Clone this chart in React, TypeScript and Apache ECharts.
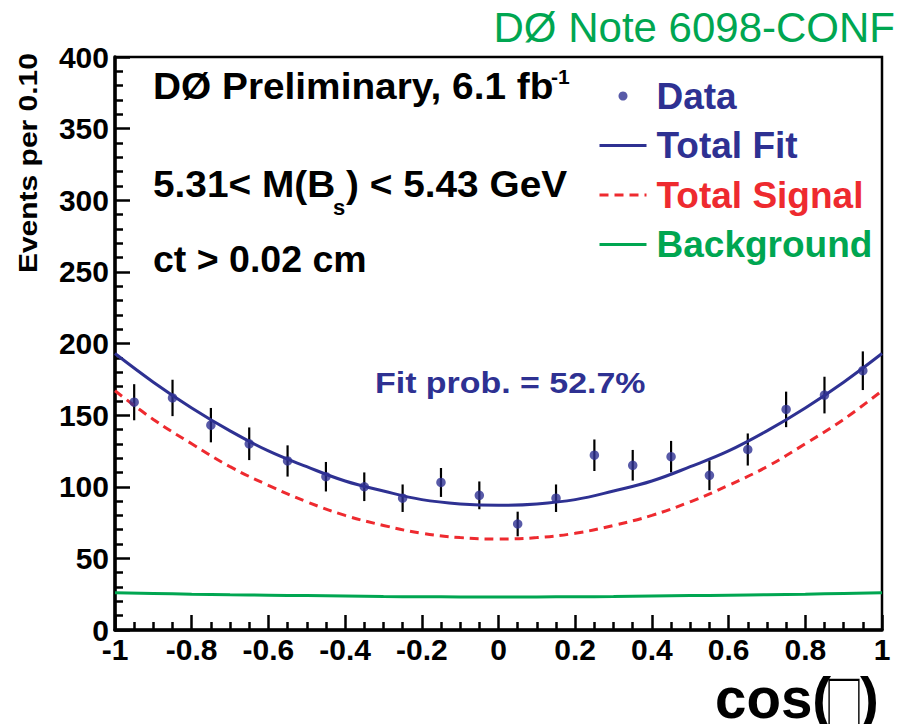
import React, { useEffect, useRef } from "react";
import * as echarts from "echarts";

// Bin centres of the cos distribution (bin width 0.10)
const binCenters = [
  -0.95, -0.85, -0.75, -0.65, -0.55, -0.45, -0.35, -0.25, -0.15, -0.05,
  0.05, 0.15, 0.25, 0.35, 0.45, 0.55, 0.65, 0.75, 0.85, 0.95,
];
// Events per bin and their statistical uncertainties
const eventCounts = [159, 162, 143, 130, 118, 107, 100, 92, 103, 94, 74, 92, 122, 115, 121, 108, 126, 154, 164, 181];
const eventErrors = [12.6, 12.7, 12, 11.4, 10.9, 10.3, 10, 9.6, 10.1, 9.7, 8.6, 9.6, 11, 10.7, 11, 10.4, 11.2, 12.4, 12.8, 13.5];

// Fit projections sampled along cos
const curveX = [-1, -0.9, -0.8, -0.7, -0.6, -0.5, -0.4, -0.3, -0.2, -0.1, 0, 0.1, 0.2, 0.3, 0.4, 0.5, 0.6, 0.7, 0.8, 0.9, 1];
const totalFit = [193, 173, 155, 139, 125, 114, 104, 97, 91, 88, 87, 88, 91, 97, 104, 114, 125, 139, 155, 173, 193];
const totalSignal = [167, 147, 130, 114, 101, 89.5, 80, 73, 67.5, 64.5, 63.5, 64.5, 67.5, 73, 80, 89.5, 101, 114, 130, 147, 167];
const background = [26, 25.5, 25, 24.6, 24.3, 24, 23.7, 23.4, 23.2, 23.1, 23, 23.1, 23.2, 23.4, 23.7, 24, 24.3, 24.6, 25, 25.5, 26];

const BLUE = "#2e3192";
const RED = "#ee2a2f";
const GREEN = "#00a651";
const FONT = '"Liberation Sans", Arial, Helvetica, sans-serif';

const pairs = (xs: number[], ys: number[]) => xs.map((x, i) => [x, ys[i]]);

export default function App() {
  const ref = useRef<HTMLDivElement>(null);

  useEffect(() => {
    if (!ref.current) return;
    const chart = echarts.init(ref.current, undefined, { renderer: "svg" });

    const boldText = (size: number) => ({ fontFamily: FONT, fontWeight: "bold" as const, fontSize: size });
    const hiddenSymbol = { opacity: 0 };

    chart.setOption({
      animation: false,
      backgroundColor: "#fff",
      grid: {
        left: 115,
        right: 28,
        top: 57,
        bottom: 94,
        show: true,
        borderColor: "#000",
        borderWidth: 2.5,
        backgroundColor: "transparent",
      },
      xAxis: {
        type: "value",
        min: -1,
        max: 1,
        interval: 0.2,
        axisLine: { show: true, onZero: false, lineStyle: { color: "#000", width: 3.5 } },
        axisTick: { show: true, inside: true, length: 15, lineStyle: { color: "#000", width: 2.5 } },
        minorTick: { show: true, splitNumber: 4, length: 8, lineStyle: { color: "#000", width: 2.5 } },
        splitLine: { show: false },
        axisLabel: { ...boldText(30), color: "#000", margin: 4 },
      },
      yAxis: {
        type: "value",
        min: 0,
        max: 400,
        interval: 50,
        axisLine: { show: true, onZero: false, lineStyle: { color: "#000", width: 3.5 } },
        axisTick: { show: true, inside: true, length: 15, lineStyle: { color: "#000", width: 2.5 } },
        minorTick: { show: true, splitNumber: 5, length: 8, lineStyle: { color: "#000", width: 2.5 } },
        splitLine: { show: false },
        axisLabel: { ...boldText(30), color: "#000", margin: 6 },
      },
      legend: {
        orient: "vertical",
        left: 593,
        top: 71,
        itemWidth: 47,
        itemHeight: 9,
        itemGap: 9.5,
        selectedMode: false,
        textStyle: { ...boldText(37), lineHeight: 40, padding: [0, 0, 0, 5] },
        data: [
          { name: "Data", icon: "circle", textStyle: { color: BLUE } },
          { name: "Total Fit", itemStyle: hiddenSymbol, lineStyle: { width: 3 }, textStyle: { color: BLUE } },
          { name: "Total Signal", itemStyle: hiddenSymbol, lineStyle: { width: 3, type: [9, 6] }, textStyle: { color: RED } },
          { name: "Background", itemStyle: hiddenSymbol, lineStyle: { width: 3 }, textStyle: { color: GREEN } },
        ],
      },
      series: [
        {
          name: "errors",
          type: "custom",
          z: 3,
          silent: true,
          data: binCenters.map((x, i) => [x, eventCounts[i] - eventErrors[i], eventCounts[i] + eventErrors[i]]),
          encode: { x: 0, y: [1, 2] },
          renderItem: (_p: any, api: any) => {
            const lo = api.coord([api.value(0), api.value(1)]);
            const hi = api.coord([api.value(0), api.value(2)]);
            return {
              type: "line",
              shape: { x1: lo[0], y1: lo[1], x2: hi[0], y2: hi[1] },
              style: { stroke: "#000", lineWidth: 2.2 },
            };
          },
        },
        {
          name: "Data",
          type: "scatter",
          z: 6,
          symbol: "circle",
          symbolSize: 9.5,
          itemStyle: { color: BLUE },
          data: pairs(binCenters, eventCounts),
        },
        {
          name: "Total Fit",
          type: "line",
          z: 4,
          smooth: 0.4,
          symbol: "none",
          itemStyle: { color: BLUE },
          lineStyle: { color: BLUE, width: 3 },
          data: pairs(curveX, totalFit),
        },
        {
          name: "Total Signal",
          type: "line",
          z: 4,
          smooth: 0.4,
          symbol: "none",
          itemStyle: { color: RED },
          lineStyle: { color: RED, width: 3, type: [9, 6] },
          data: pairs(curveX, totalSignal),
        },
        {
          name: "Background",
          type: "line",
          z: 4,
          smooth: 0.4,
          symbol: "none",
          itemStyle: { color: GREEN },
          lineStyle: { color: GREEN, width: 3 },
          data: pairs(curveX, background),
        },
      ],
      graphic: [
        {
          type: "text",
          x: 895,
          y: 27.5,
          style: { text: "DØ Note 6098-CONF", fontFamily: FONT, fontSize: 42, fill: GREEN, align: "right", verticalAlign: "middle" },
        },
        {
          type: "text",
          x: 153,
          y: 86,
          scaleX: 1.035,
          style: { text: "DØ Preliminary, 6.1 fb", ...boldText(37.5), fill: "#000", verticalAlign: "middle" },
        },
        {
          type: "text",
          x: 551,
          y: 76,
          style: { text: "-1", ...boldText(21), fill: "#000", verticalAlign: "middle" },
        },
        {
          type: "text",
          x: 153,
          y: 183.3,
          scaleX: 1.035,
          style: { text: "5.31< M(B", ...boldText(37.5), fill: "#000", verticalAlign: "middle" },
        },
        {
          type: "text",
          x: 333,
          y: 207,
          style: { text: "s", ...boldText(22), fill: "#000", verticalAlign: "middle" },
        },
        {
          type: "text",
          x: 346,
          y: 183.3,
          scaleX: 1.035,
          style: { text: ") < 5.43 GeV", ...boldText(37.5), fill: "#000", verticalAlign: "middle" },
        },
        {
          type: "text",
          x: 153,
          y: 259,
          style: { text: "ct > 0.02 cm", ...boldText(37.5), fill: "#000", verticalAlign: "middle" },
        },
        {
          type: "text",
          x: 375,
          y: 383,
          scaleX: 1.17,
          style: { text: "Fit prob. = 52.7%", ...boldText(29), fill: BLUE, verticalAlign: "middle" },
        },
        {
          type: "text",
          x: 28.5,
          y: 53,
          rotation: Math.PI / 2,
          scaleX: 1.2,
          style: { text: "Events per 0.10", ...boldText(25), fill: "#000", align: "right", verticalAlign: "middle" },
        },
        // x-axis title: cos( □ )
        {
          type: "text",
          x: 715,
          y: 698,
          style: { text: "cos(", ...boldText(56.5), fill: "#000", verticalAlign: "middle" },
        },
        {
          type: "text",
          x: 844,
          y: 700,
          scaleX: 0.65,
          style: {
            text: "\u25A1",
            fontFamily: '"Noto Sans CJK SC", "DejaVu Sans", sans-serif',
            fontSize: 60,
            fill: "#000",
            align: "center",
            verticalAlign: "middle",
          },
        },
        {
          type: "text",
          x: 860,
          y: 698,
          style: { text: ")", ...boldText(56.5), fill: "#000", verticalAlign: "middle" },
        },
      ],
    });

    return () => chart.dispose();
  }, []);

  return (
    <div
      ref={ref}
      style={{ position: "absolute", left: 0, top: 0, width: 910, height: 724 }}
    />
  );
}
